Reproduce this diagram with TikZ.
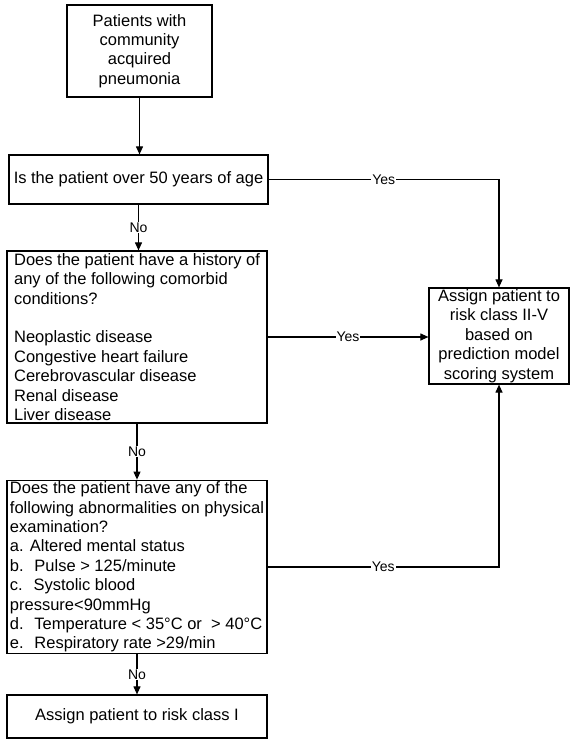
\documentclass[tikz,border=0pt]{standalone}
\usepackage{fontspec}
\setmainfont{Liberation Sans}
\usetikzlibrary{arrows.meta}
\begin{document}
\begin{tikzpicture}[x=1pt,y=-1pt,
  box/.style={draw, line width=1.2pt, inner sep=1.5pt, font=\fontsize{16.5}{19.4}\selectfont},
  arr/.style={line width=1.1pt, -{Triangle[length=8pt,width=7pt]}},
  lab/.style={fill=white, inner sep=1pt, font=\fontsize{14}{16}\selectfont}]
\useasboundingbox (0,0) rectangle (574,739);
\node[box, minimum width=145pt, minimum height=92pt, align=center] (b1) at (139.5,51)
  {Patients with\\community\\acquired\\pneumonia};
\node[box, minimum width=259pt, minimum height=49pt] (b2) at (138.5,179.5)
  {Is the patient over 50 years of age};
\node[box, minimum width=260pt, minimum height=172pt, align=left] (b3) at (137,337)
  {Does the patient have a history of\\any of the following comorbid\\conditions?\\[19.4pt]Neoplastic disease\\Congestive heart failure\\Cerebrovascular disease\\Renal disease\\Liver disease};
\node[box, minimum width=260pt, minimum height=170pt, align=left] (b4) at (137,567)
  {Does the patient have any of the\\following abnormalities on physical\\examination?\\a. Altered mental status\\b.~ Pulse > 125/minute\\c.~ Systolic blood\\pressure<90mmHg\\d.~ Temperature < 35°C or~ > 40°C\\e.~ Respiratory rate >29/min};
\node[box, minimum width=260pt, minimum height=43pt] (b6) at (137,716.5)
  {Assign patient to risk class I};
\node[box, minimum width=140pt, minimum height=90pt, align=center] (b5) at (499,336)
  {Assign patient to\\risk class II-V\\based on\\prediction model\\scoring system};
\draw[arr] (b1.south) -- (b1.south |- b2.north);
\draw[arr] (b2.south) -- node[lab]{No} (b2.south |- b3.north);
\draw[arr] (b3.south) -- node[lab]{No} (b3.south |- b4.north);
\draw[arr] (b4.south) -- node[lab]{No} (b4.south |- b6.north);
\coordinate (c1) at (b2.east -| b5.north);
\coordinate (c2) at (b4.east -| b5.south);
\draw[arr] (b2.east) -- node[lab]{Yes} (c1) -- (b5.north);
\draw[arr] (b3.east) -- node[lab]{Yes} (b3.east -| b5.west);
\draw[arr] (b4.east) -- node[lab]{Yes} (c2) -- (b5.south);
\end{tikzpicture}
\end{document}
